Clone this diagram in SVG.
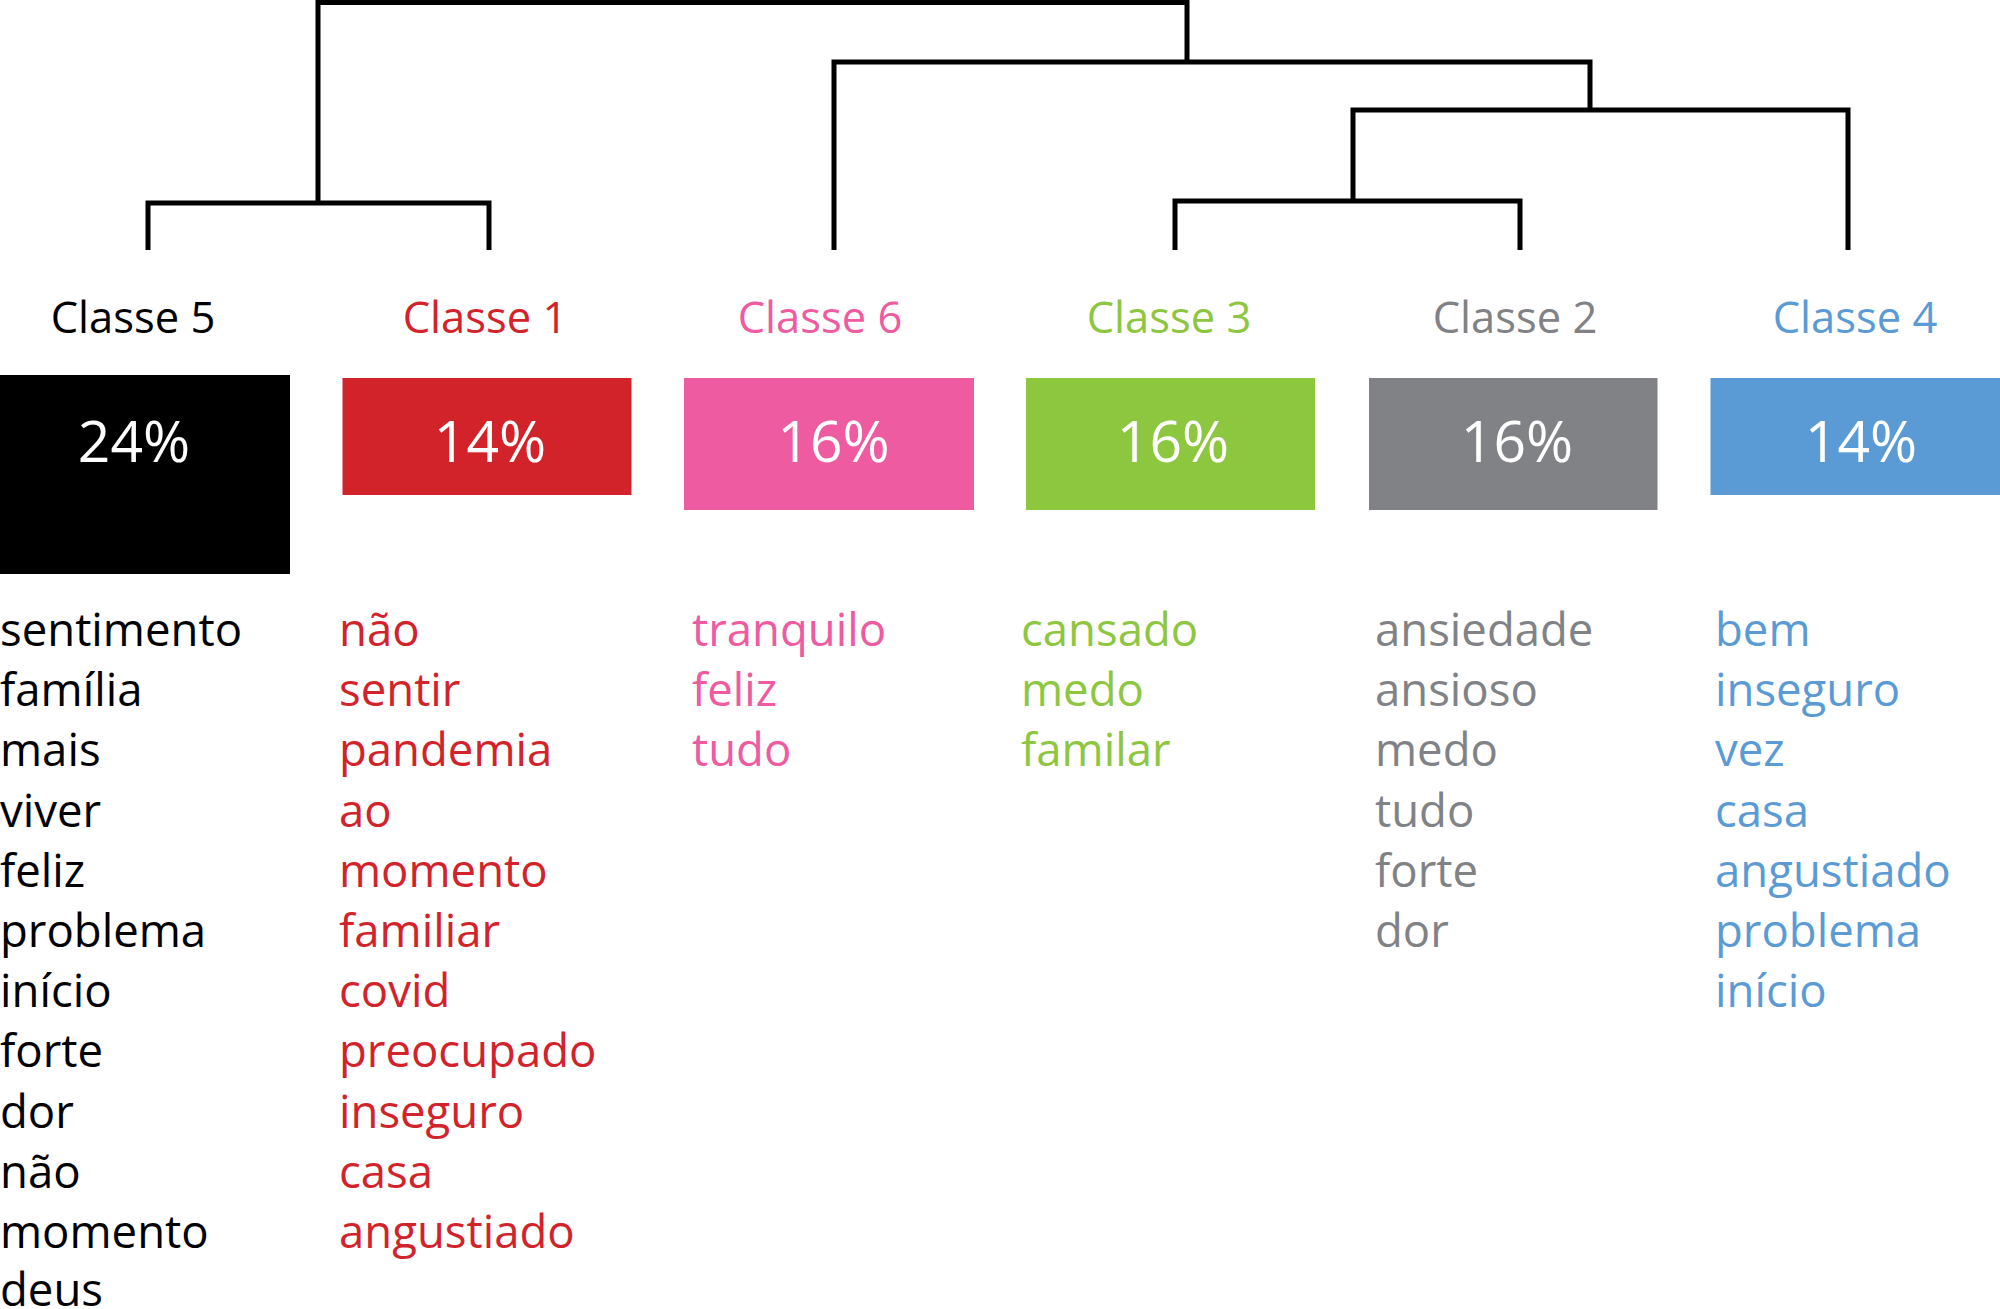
<svg xmlns="http://www.w3.org/2000/svg" width="2000" height="1309" viewBox="0 0 2000 1309">
<style>
text{font-family:"Open Sans","Noto Sans","Liberation Sans",sans-serif}
.lbl{font-size:43.5px;text-anchor:middle}
.pct{font-size:57px;text-anchor:middle;fill:#fff}
.w{font-size:45.5px}
.conn{fill:none;stroke:#000;stroke-width:5;stroke-linejoin:miter;stroke-linecap:butt}
.k{fill:#000}.r{fill:#D2232B}.p{fill:#EE5BA0}.g{fill:#8DC63F}.y{fill:#808285}.b{fill:#5B9BD5}
</style>
<rect width="2000" height="1309" fill="#fff"/>
<g id="connectors">
<path class="conn" d="M318,203 V2.5 H1187 V62"/>
<path class="conn" d="M148,250 V203 H489 V250"/>
<path class="conn" d="M834,250 V62 H1590 V110"/>
<path class="conn" d="M1353,201 V110 H1848 V250"/>
<path class="conn" d="M1175,250 V201 H1520 V250"/>
</g>
<g id="classe5">
<text class="lbl k" x="133" y="333">Classe 5</text>
<rect class="k" x="0" y="375" width="290" height="199"/>
<text class="pct" x="134" y="462">24%</text>
<g class="w k">
<text x="0" y="646">sentimento</text>
<text x="0" y="706">família</text>
<text x="0" y="766">mais</text>
<text x="0" y="827">viver</text>
<text x="0" y="887">feliz</text>
<text x="0" y="947">problema</text>
<text x="0" y="1007">início</text>
<text x="0" y="1067">forte</text>
<text x="0" y="1128">dor</text>
<text x="0" y="1188">não</text>
<text x="0" y="1248">momento</text>
<text x="0" y="1306">deus</text>
</g>
</g>
<g id="classe1">
<text class="lbl r" x="485" y="333">Classe 1</text>
<rect class="r" x="342.5" y="378" width="289" height="117"/>
<text class="pct" x="490" y="462">14%</text>
<g class="w r">
<text x="339" y="646">não</text>
<text x="339" y="706">sentir</text>
<text x="339" y="766">pandemia</text>
<text x="339" y="827">ao</text>
<text x="339" y="887">momento</text>
<text x="339" y="947">familiar</text>
<text x="339" y="1007">covid</text>
<text x="339" y="1067">preocupado</text>
<text x="339" y="1128">inseguro</text>
<text x="339" y="1188">casa</text>
<text x="339" y="1248">angustiado</text>
</g>
</g>
<g id="classe6">
<text class="lbl p" x="820" y="333">Classe 6</text>
<rect class="p" x="684" y="378" width="290" height="132"/>
<text class="pct" x="833.5" y="462">16%</text>
<g class="w p">
<text x="692" y="646">tranquilo</text>
<text x="692" y="706">feliz</text>
<text x="692" y="766">tudo</text>
</g>
</g>
<g id="classe3">
<text class="lbl g" x="1169" y="333">Classe 3</text>
<rect class="g" x="1026" y="378" width="289" height="132"/>
<text class="pct" x="1173" y="462">16%</text>
<g class="w g">
<text x="1021" y="646">cansado</text>
<text x="1021" y="706">medo</text>
<text x="1021" y="766">familar</text>
</g>
</g>
<g id="classe2">
<text class="lbl y" x="1515" y="333">Classe 2</text>
<rect class="y" x="1369" y="378" width="288.5" height="132"/>
<text class="pct" x="1517" y="462">16%</text>
<g class="w y">
<text x="1375" y="646">ansiedade</text>
<text x="1375" y="706">ansioso</text>
<text x="1375" y="766">medo</text>
<text x="1375" y="827">tudo</text>
<text x="1375" y="887">forte</text>
<text x="1375" y="947">dor</text>
</g>
</g>
<g id="classe4">
<text class="lbl b" x="1855" y="333">Classe 4</text>
<rect class="b" x="1710.5" y="378" width="289.5" height="117"/>
<text class="pct" x="1861" y="462">14%</text>
<g class="w b">
<text x="1715" y="646">bem</text>
<text x="1715" y="706">inseguro</text>
<text x="1715" y="766">vez</text>
<text x="1715" y="827">casa</text>
<text x="1715" y="887">angustiado</text>
<text x="1715" y="947">problema</text>
<text x="1715" y="1007">início</text>
</g>
</g>
</svg>
